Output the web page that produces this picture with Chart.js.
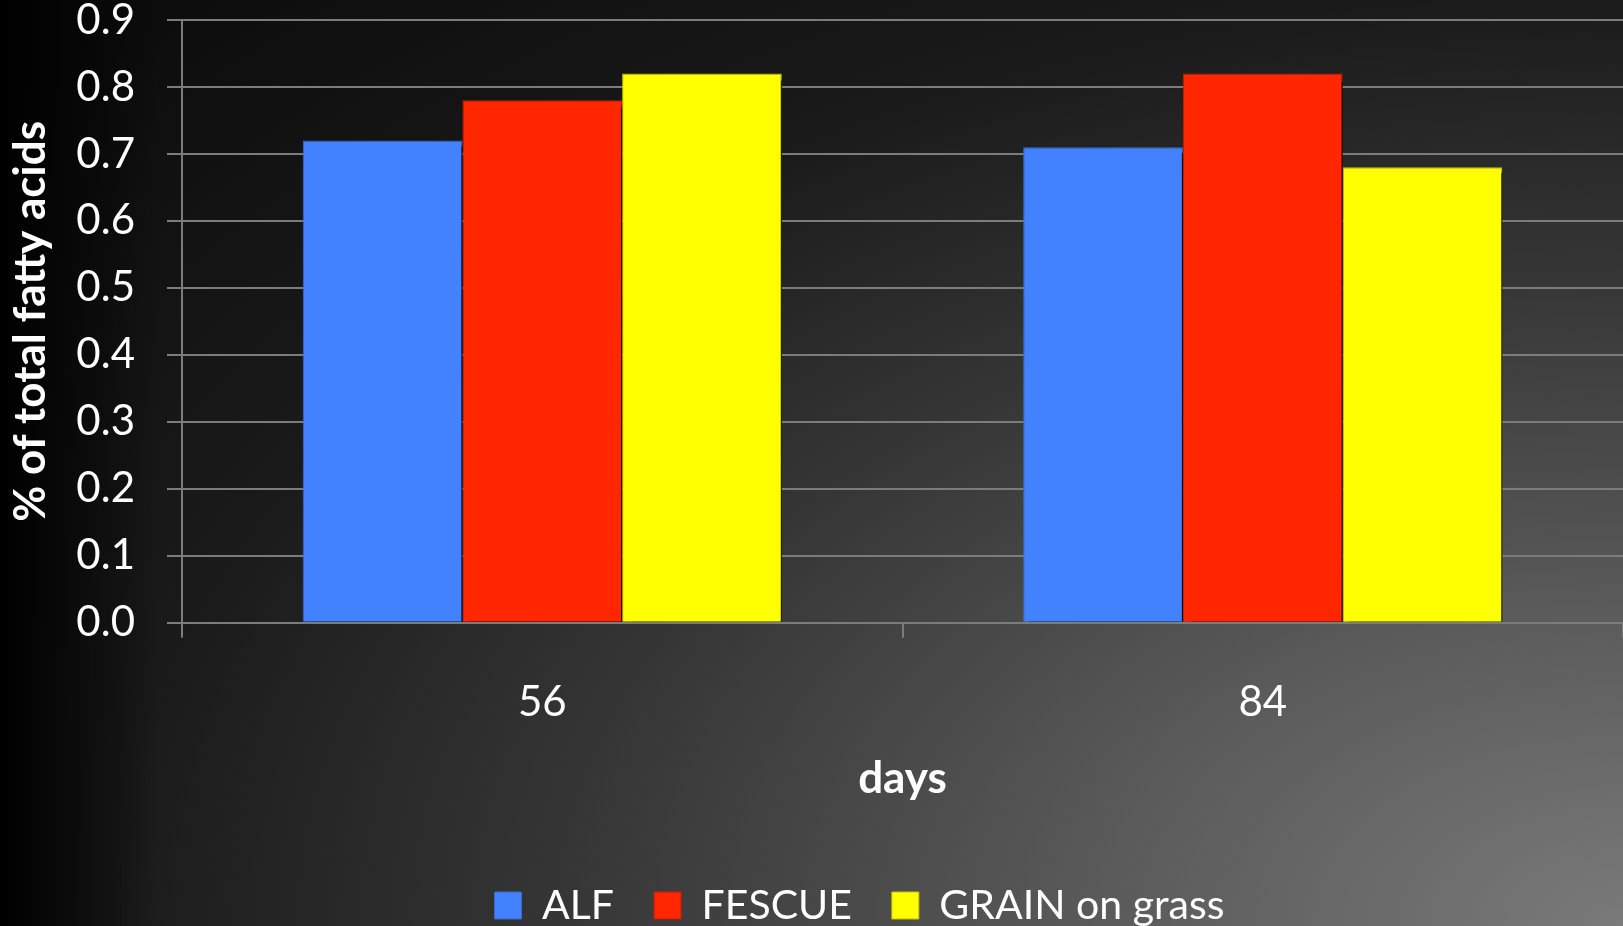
<!DOCTYPE html>
<html>
<head>
<meta charset="utf-8">
<script src="https://cdn.jsdelivr.net/npm/chart.js@4.4.0/dist/chart.umd.min.js"></script>
<style>
    html, body { margin: 0; padding: 0; width: 1623px; height: 926px; overflow: hidden; }
    body {
        background:
            linear-gradient(to right, rgba(0,0,0,1) 0px, rgba(0,0,0,0) 160px),
            radial-gradient(ellipse 130% 140% at 100% 100%, #7a7a7a 0%, #5a5a5a 25%, #363636 50%, #1a1a1a 72%, #0c0c0c 100%);
    }
    #wrap { position: absolute; left: 0; top: 0; width: 1623px; height: 926px; }
</style>
</head>
<body>
<div id="wrap"><canvas id="chart"></canvas></div>
<script>
// Chart data
const CATEGORIES = ['56', '84'];
const SERIES_NAMES = ['ALF', 'FESCUE', 'GRAIN on grass'];
const ALF = [0.72, 0.71];
const FESCUE = [0.78, 0.82];
const GRAIN = [0.82, 0.68];
const Y_TICKS = [0, 0.1, 0.2, 0.3, 0.4, 0.5, 0.6, 0.7, 0.8, 0.9];

const FONT = 'Lato, "Open Sans", sans-serif';
const GRID = '#7c7c7c';

// drop shadow behind the bars
const barShadow = {
    id: 'barShadow',
    beforeDatasetsDraw(chart) {
        const ctx = chart.ctx;
        ctx.save();
        ctx.shadowColor = 'rgba(0,0,0,0.95)';
        ctx.shadowOffsetX = 6;
        ctx.shadowOffsetY = 5;
        ctx.shadowBlur = 1;
    },
    afterDatasetsDraw(chart) {
        chart.ctx.restore();
    }
};

// legend sits a bit right of centre in the original
const legendShift = {
    id: 'legendShift',
    afterUpdate(chart) {
        const lg = chart.legend;
        if (!lg) return;
        lg.left += 48;
        lg.right += 48;
        lg.adjustHitBoxes();
    }
};

function init() {
    const ctx = document.getElementById('chart').getContext('2d');
    new Chart(ctx, {
        type: 'bar',
        data: {
            labels: CATEGORIES,
            datasets: [
                { label: SERIES_NAMES[0], data: ALF, backgroundColor: '#4281ff', borderColor: '#3a6cc8', borderWidth: 1 },
                { label: SERIES_NAMES[1], data: FESCUE, backgroundColor: '#ff2600', borderColor: '#c41d00', borderWidth: 1 },
                { label: SERIES_NAMES[2], data: GRAIN, backgroundColor: '#ffff00', borderColor: '#c4c400', borderWidth: 1 }
            ]
        },
        options: {
            responsive: true,
            maintainAspectRatio: false,
            animation: false,
            categoryPercentage: 0.665,
            barPercentage: 1.0,
            layout: { padding: { top: 0, right: 0, bottom: -10, left: 0 } },
            scales: {
                x: {
                    grid: { drawOnChartArea: false, drawTicks: true, tickLength: 15, color: GRID, lineWidth: 2 },
                    border: { display: true, color: GRID, width: 2 },
                    ticks: { color: '#fff', font: { family: FONT, size: 42 }, padding: 39 },
                    title: { display: true, text: 'days', color: '#fff', font: { family: FONT, size: 44, weight: 'bold' }, padding: { top: -14, bottom: 40 } }
                },
                y: {
                    min: 0,
                    max: 0.9,
                    afterBuildTicks(scale) { scale.ticks = Y_TICKS.map(v => ({ value: v })); },
                    afterFit(scale) {
                        scale.width = 182;
                        scale.paddingTop = 20;
                        scale.paddingBottom = 20;
                    },
                    grid: { color: GRID, lineWidth: 2, tickLength: 15 },
                    border: { display: true, color: GRID, width: 2 },
                    ticks: { color: '#fff', font: { family: FONT, size: 42 }, padding: 32, callback: v => v.toFixed(1) },
                    title: { display: true, text: '% of total fatty acids', color: '#fff', font: { family: FONT, size: 44, weight: 'bold' }, padding: { top: 4, bottom: 0 } }
                }
            },
            plugins: {
                legend: {
                    position: 'bottom',
                    labels: { color: '#fff', font: { family: FONT, size: 41 }, boxWidth: 27, boxHeight: 27, padding: 40 }
                },
                tooltip: { enabled: false }
            }
        },
        plugins: [barShadow, legendShift]
    });
}

document.addEventListener('DOMContentLoaded', init);
</script>
</body>
</html>
